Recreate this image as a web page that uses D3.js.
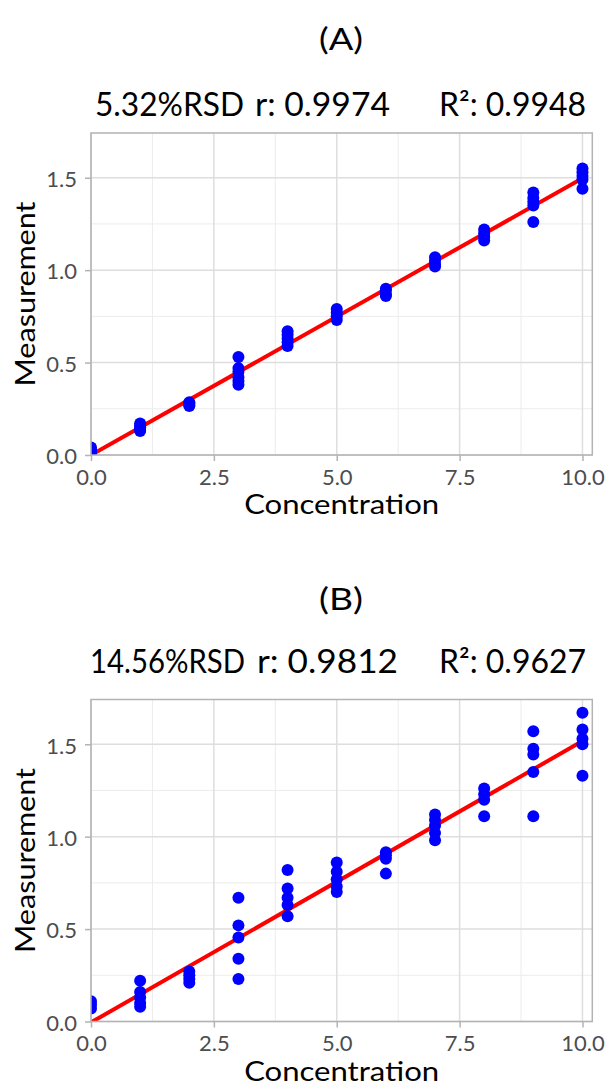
<!DOCTYPE html>
<html lang="en">
<head>
<meta charset="UTF-8">
<title>Calibration plots</title>
<script src="https://cdn.jsdelivr.net/npm/d3@7"></script>
<style>
    body { margin: 0; background: #fff; }
    text { font-family: Lato, "Open Sans", sans-serif; }
</style>
</head>
<body>
<div id="chart"></div>
<script>
// concentration levels (x) shared by both panels
var concentrations = [0, 1, 2, 3, 4, 5, 6, 7, 8, 9, 10];

// replicate measurements per concentration, panel A
var measA = [
    [0.01, 0.02, 0.03, 0.04],
    [0.13, 0.14, 0.15, 0.16, 0.17],
    [0.265, 0.27, 0.28, 0.285],
    [0.38, 0.40, 0.42, 0.45, 0.47, 0.53],
    [0.59, 0.61, 0.63, 0.65, 0.67],
    [0.73, 0.75, 0.77, 0.79],
    [0.86, 0.87, 0.89, 0.90],
    [1.02, 1.03, 1.05, 1.07],
    [1.16, 1.18, 1.20, 1.22],
    [1.26, 1.35, 1.37, 1.39, 1.42],
    [1.44, 1.49, 1.51, 1.53, 1.55]
];

// replicate measurements per concentration, panel B
var measB = [
    [0.07, 0.09, 0.11],
    [0.08, 0.10, 0.13, 0.16, 0.22],
    [0.21, 0.23, 0.25, 0.27],
    [0.23, 0.34, 0.455, 0.52, 0.67],
    [0.57, 0.63, 0.67, 0.72, 0.82],
    [0.70, 0.73, 0.77, 0.81, 0.86],
    [0.80, 0.88, 0.90, 0.915],
    [0.98, 1.02, 1.06, 1.09, 1.12],
    [1.11, 1.20, 1.23, 1.26],
    [1.11, 1.35, 1.445, 1.475, 1.57],
    [1.33, 1.50, 1.53, 1.58, 1.67]
];

// fitted line: value at x = 0 and at x = 10
var fitA = [0.0, 1.497];
var fitB = [-0.005, 1.517];

var titles = ["(A)", "(B)"];
var statsA = ["5.32%RSD", "r: 0.9974", "R\u00b2: 0.9948"];
var statsB = ["14.56%RSD", "r: 0.9812", "R\u00b2: 0.9627"];

var xTicks = [0, 2.5, 5, 7.5, 10];
var xMinor = [1.25, 3.75, 6.25, 8.75];
var yTicks = [0, 0.5, 1.0, 1.5];
var yMinor = [0.25, 0.75, 1.25];

var W = 606, H = 1086;
var svg = d3.select("#chart").append("svg")
    .attr("width", W)
    .attr("height", H);

var plotL = 91, plotR = 592.3, plotH = 322;

var x = d3.scaleLinear().domain([0, 10.2]).range([plotL, plotR]);

// stats line pieces: start x and width of each piece
var statsPos = [
    [[95, 149], [255, 135], [439, 147]],
    [[90, 155], [257, 141], [439, 147]]
];

function drawPanel(idx, meas, stats, fit, top, titleY, statsY) {
    var y = d3.scaleLinear().domain([0, 1.742]).range([top + plotH, top]);

    var pts = [];
    concentrations.forEach(function (c, i) {
        meas[i].forEach(function (v) { pts.push({x: c, y: v}); });
    });

    svg.append("text")
        .attr("x", 341).attr("y", titleY)
        .attr("text-anchor", "middle")
        .attr("font-size", 30)
        .attr("textLength", 44)
        .attr("lengthAdjust", "spacingAndGlyphs")
        .text(titles[idx]);

    stats.forEach(function (s, i) {
        svg.append("text")
            .attr("x", statsPos[idx][i][0]).attr("y", statsY)
            .attr("font-size", 32)
            .attr("textLength", statsPos[idx][i][1])
            .attr("lengthAdjust", "spacingAndGlyphs")
            .text(s);
    });

    // grid
    var grid = svg.append("g");
    grid.selectAll(".vmin").data(xMinor).enter().append("line")
        .attr("x1", x).attr("x2", x)
        .attr("y1", top).attr("y2", top + plotH)
        .attr("stroke", "#ececec").attr("stroke-width", 1);
    grid.selectAll(".hmin").data(yMinor).enter().append("line")
        .attr("x1", plotL).attr("x2", plotR)
        .attr("y1", y).attr("y2", y)
        .attr("stroke", "#ececec").attr("stroke-width", 1);
    grid.selectAll(".vmaj").data(xTicks).enter().append("line")
        .attr("x1", x).attr("x2", x)
        .attr("y1", top).attr("y2", top + plotH)
        .attr("stroke", "#dedede").attr("stroke-width", 1.5);
    grid.selectAll(".hmaj").data(yTicks).enter().append("line")
        .attr("x1", plotL).attr("x2", plotR)
        .attr("y1", y).attr("y2", y)
        .attr("stroke", "#dedede").attr("stroke-width", 1.5);

    var clipId = "clip" + idx;
    svg.append("clipPath").attr("id", clipId).append("rect")
        .attr("x", plotL).attr("y", top)
        .attr("width", plotR - plotL).attr("height", plotH);

    var marks = svg.append("g").attr("clip-path", "url(#" + clipId + ")");

    marks.append("line")
        .attr("x1", x(0)).attr("y1", y(fit[0]))
        .attr("x2", x(10)).attr("y2", y(fit[1]))
        .attr("stroke", "#ff0000").attr("stroke-width", 4);

    marks.selectAll("circle").data(pts).enter().append("circle")
        .attr("cx", function (d) { return x(d.x); })
        .attr("cy", function (d) { return y(d.y); })
        .attr("r", 6)
        .attr("fill", "#0000ff");

    // border
    svg.append("rect")
        .attr("x", plotL).attr("y", top)
        .attr("width", plotR - plotL).attr("height", plotH)
        .attr("fill", "none").attr("stroke", "#b3b3b3").attr("stroke-width", 1.5);

    // axes
    var xAxis = svg.append("g")
        .attr("transform", "translate(0," + (top + plotH) + ")")
        .call(d3.axisBottom(x).tickValues(xTicks).tickFormat(d3.format(".1f"))
            .tickSize(6).tickPadding(8));
    var yAxis = svg.append("g")
        .attr("transform", "translate(" + plotL + ",0)")
        .call(d3.axisLeft(y).tickValues(yTicks).tickFormat(d3.format(".1f"))
            .tickSize(6).tickPadding(8));
    [xAxis, yAxis].forEach(function (a) {
        a.select(".domain").remove();
        a.selectAll(".tick line").attr("stroke", "#b3b3b3").attr("stroke-width", 1.5);
        a.selectAll(".tick text").attr("fill", "#4d4d4d").attr("font-size", 22)
            .attr("font-family", "Lato, sans-serif");
    });
    yAxis.selectAll(".tick text").attr("dy", "0.4em");

    svg.append("text")
        .attr("x", (plotL + plotR) / 2).attr("y", top + plotH + 59)
        .attr("text-anchor", "middle")
        .attr("font-size", 26)
        .attr("textLength", 195)
        .attr("lengthAdjust", "spacingAndGlyphs")
        .text("Concentration");

    svg.append("text")
        .attr("transform", "translate(35," + (top + plotH / 2) + ") rotate(-90)")
        .attr("text-anchor", "middle")
        .attr("font-size", 27)
        .attr("textLength", 185)
        .attr("lengthAdjust", "spacingAndGlyphs")
        .text("Measurement");
}

drawPanel(0, measA, statsA, fitA, 133, 50, 116);
drawPanel(1, measB, statsB, fitB, 699.5, 610, 673);
</script>
</body>
</html>
